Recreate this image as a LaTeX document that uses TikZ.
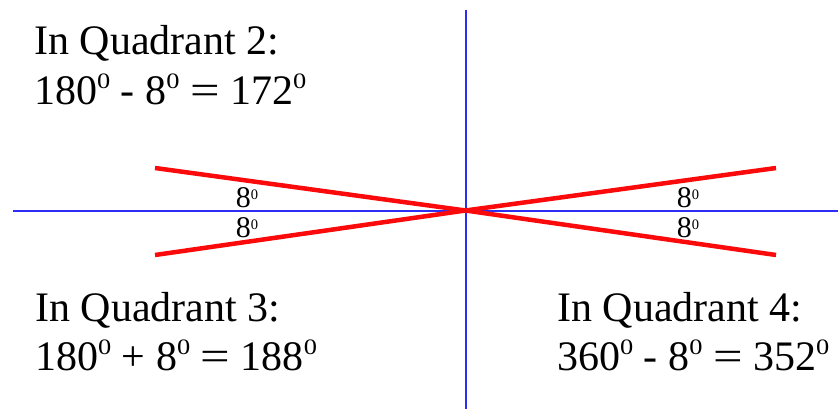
\documentclass[tikz,border=0pt]{standalone}
\usepackage{fontspec}
\setmainfont{Liberation Serif}
\definecolor{axisblue}{RGB}{45,45,245}
\definecolor{rayred}{RGB}{250,10,10}
\newcommand\bigsup{\raisebox{16pt}{\fontsize{22}{22}\selectfont\scalebox{1.2}[1]{0}}}
\newcommand\smallsup{\raisebox{8pt}{\fontsize{14.5}{14.5}\selectfont 0}}
\newcommand\wideeq{\scalebox{1.25}[1]{=}}
\begin{document}
\begin{tikzpicture}[x=1pt,y=-1pt,
  axis/.style={axisblue,line width=2pt},
  ray/.style={rayred,line width=4.5pt},
  bigtxt/.style={anchor=base west,inner sep=0pt,font=\fontsize{42}{49}\selectfont},
  angtxt/.style={anchor=base,inner sep=0pt,font=\fontsize{30}{30}\selectfont}]
\useasboundingbox (0,0) rectangle (838,409);
\coordinate (O) at (465.5,210.5);
\coordinate (xl) at (13,210.5);\coordinate (xr) at (838,210.5);
\coordinate (yt) at (465.5,10);\coordinate (yb) at (465.5,409);
\draw[axis] (xl)--(xr);
\draw[axis] (yt)--(yb);
% the two lines at 8 degrees
\coordinate (ul) at (155,168);\coordinate (lr) at (776,255);
\coordinate (ll) at (155,255);\coordinate (ur) at (776,168);
\draw[ray] (ul)--(O)--(lr);
\draw[ray] (ll)--(O)--(ur);
\node[angtxt] (angul) at (247,207.3) {8\smallsup};
\node[angtxt] (angll) at (247,237.5) {8\smallsup};
\node[angtxt] (angur) at (688,207.3) {8\smallsup};
\node[angtxt] (anglr) at (688,237.5) {8\smallsup};
% quadrant texts
\node[bigtxt] (q2title) at (34,55) {In Quadrant 2:};
\node[bigtxt] (q2calc) at (34,104.5) {180\bigsup{} - 8\bigsup{} \wideeq{} 172\bigsup};
\node[bigtxt] (q3title) at (35,321) {In Quadrant 3:};
\node[bigtxt] (q3calc) at (35,370) {180\bigsup{} + 8\bigsup{} \wideeq{} 188\bigsup};
\node[bigtxt] (q4title) at (557,321) {In Quadrant 4:};
\node[bigtxt] (q4calc) at (557,370) {360\bigsup{} - 8\bigsup{} \wideeq{} 352\bigsup};
\end{tikzpicture}
\end{document}
